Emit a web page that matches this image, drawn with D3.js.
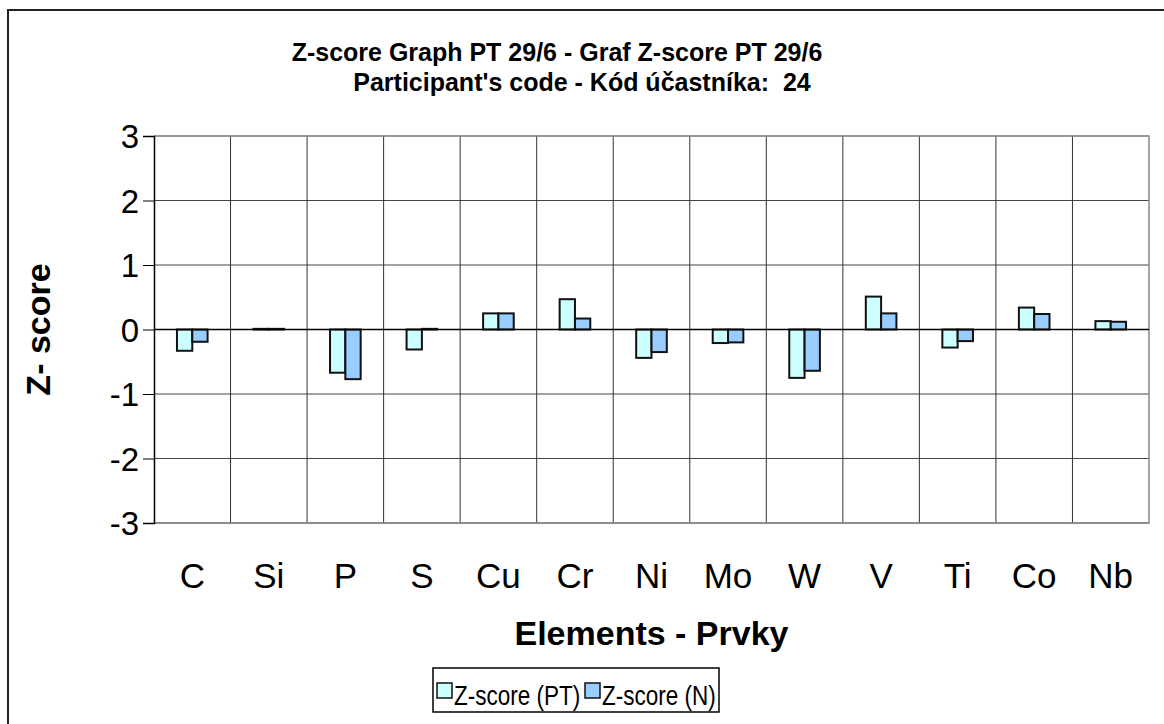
<!DOCTYPE html>
<html>
<head>
<meta charset="utf-8">
<script src="https://cdn.jsdelivr.net/npm/d3@7"></script>
<style>
  body { margin: 0; background: #fff; }
  text { font-family: Arial, "Liberation Sans", sans-serif; fill: #000; }
</style>
</head>
<body>
<div id="wrapper"></div>
<script>
const categories = ["C", "Si", "P", "S", "Cu", "Cr", "Ni", "Mo", "W", "V", "Ti", "Co", "Nb"];
const zScorePT = [-0.33, 0.01, -0.67, -0.31, 0.25, 0.47, -0.44, -0.21, -0.75, 0.51, -0.28, 0.34, 0.13];
const zScoreN = [-0.19, 0.01, -0.77, 0.01, 0.25, 0.17, -0.35, -0.20, -0.64, 0.25, -0.18, 0.24, 0.12];
const seriesNames = ["Z-score (PT)", "Z-score (N)"];
const seriesColors = ["#ccffff", "#99ccff"];
const yTicks = [-3, -2, -1, 0, 1, 2, 3];
const titleLines = ["Z-score Graph PT 29/6 - Graf Z-score PT 29/6", "Participant's code - Kód účastníka:  24"];

const width = 1164, height = 724;
const plot = { left: 154, right: 1149, top: 136, bottom: 523 };

const svg = d3.select("#wrapper").append("svg")
  .attr("width", width).attr("height", height);

// outer chart border (runs off the right and bottom edge)
svg.append("rect")
  .attr("x", 8).attr("y", 10)
  .attr("width", 1200).attr("height", 760)
  .attr("fill", "none").attr("stroke", "#222").attr("stroke-width", 2);

const x = d3.scaleBand().domain(categories).range([plot.left, plot.right]).paddingInner(0);
const bw = x.bandwidth();
const xs = d3.scaleBand().domain([0, 1]).range([bw * 0.3, bw * 0.7]);
const y = d3.scaleLinear().domain([-3, 3]).range([plot.bottom, plot.top]);

const grid = svg.append("g");
// horizontal gridlines
grid.selectAll("line.h").data(yTicks).enter().append("line")
  .attr("x1", plot.left).attr("x2", plot.right)
  .attr("y1", d => y(d)).attr("y2", d => y(d))
  .attr("stroke", d => d === 3 ? "#999" : "#444").attr("stroke-width", 1);
// vertical gridlines at category boundaries
grid.selectAll("line.v").data(categories.slice(1)).enter().append("line")
  .attr("x1", d => x(d)).attr("x2", d => x(d))
  .attr("y1", plot.top).attr("y2", plot.bottom)
  .attr("stroke", "#333").attr("stroke-width", 1);
// plot frame
svg.append("path")
  .attr("d", `M${plot.left},${plot.top}H${plot.right}V${plot.bottom}H${plot.left}`)
  .attr("fill", "none").attr("stroke", "#888").attr("stroke-width", 1.5);

// bars
const data = categories.map((c, i) => ({ c, vals: [zScorePT[i], zScoreN[i]] }));
const groups = svg.append("g").selectAll("g").data(data).enter().append("g")
  .attr("transform", d => `translate(${x(d.c)},0)`);
groups.selectAll("rect").data(d => d.vals.map((v, s) => ({ v, s }))).enter().append("rect")
  .attr("x", d => xs(d.s))
  .attr("width", xs.bandwidth())
  .attr("y", d => Math.min(y(d.v), y(0)))
  .attr("height", d => Math.abs(y(d.v) - y(0)))
  .attr("fill", d => seriesColors[d.s])
  .attr("stroke", "#111").attr("stroke-width", 2);

// zero line
svg.append("line")
  .attr("x1", plot.left).attr("x2", plot.right)
  .attr("y1", y(0)).attr("y2", y(0))
  .attr("stroke", "#000").attr("stroke-width", 1.5);

// y axis
const yAxis = svg.append("g")
  .attr("transform", `translate(${plot.left},0)`)
  .call(d3.axisLeft(y).tickValues(yTicks).tickSize(11).tickPadding(4).tickFormat(d3.format("d")));
yAxis.select(".domain").attr("stroke", "#000").attr("stroke-width", 1.5);
yAxis.selectAll(".tick line").attr("stroke", "#000");
yAxis.selectAll(".tick text")
  .attr("font-family", "Arial, 'Liberation Sans', sans-serif")
  .attr("font-size", 33).attr("dy", "0.36em").text(d => d < 0 ? "-" + Math.abs(d) : d);

// x category labels
svg.append("g").selectAll("text").data(categories).enter().append("text")
  .attr("x", d => x(d) + bw / 2).attr("y", 588)
  .attr("text-anchor", "middle").attr("font-size", 35)
  .text(d => d);

// titles
svg.append("g").selectAll("text").data(titleLines).enter().append("text")
  .attr("x", (d, i) => i === 0 ? 557 : 582).attr("y", (d, i) => i === 0 ? 61 : 91)
  .attr("text-anchor", "middle").attr("font-size", 25).attr("font-weight", "bold")
  .attr("xml:space", "preserve")
  .text(d => d);

svg.append("text")
  .attr("x", (plot.left + plot.right) / 2).attr("y", 645)
  .attr("text-anchor", "middle").attr("font-size", 34).attr("font-weight", "bold")
  .text("Elements - Prvky");

svg.append("text")
  .attr("transform", `translate(50,${(plot.top + plot.bottom) / 2}) rotate(-90)`)
  .attr("text-anchor", "middle").attr("font-size", 34).attr("font-weight", "bold")
  .text("Z- score");

// legend
const legend = svg.append("g");
legend.append("rect")
  .attr("x", 433).attr("y", 668).attr("width", 286).attr("height", 44)
  .attr("fill", "#fff").attr("stroke", "#000").attr("stroke-width", 1.5);
const legX = [437, 585];
const items = legend.selectAll("g").data(seriesNames).enter().append("g")
  .attr("transform", (d, i) => `translate(${legX[i]},683)`);
items.append("rect")
  .attr("width", 15).attr("height", 15)
  .attr("fill", (d, i) => seriesColors[i]).attr("stroke", "#111").attr("stroke-width", 1.5);
items.append("text")
  .attr("transform", "translate(17,22) scale(1,1.25)")
  .attr("font-size", 22.5).text(d => d);
</script>
</body>
</html>
